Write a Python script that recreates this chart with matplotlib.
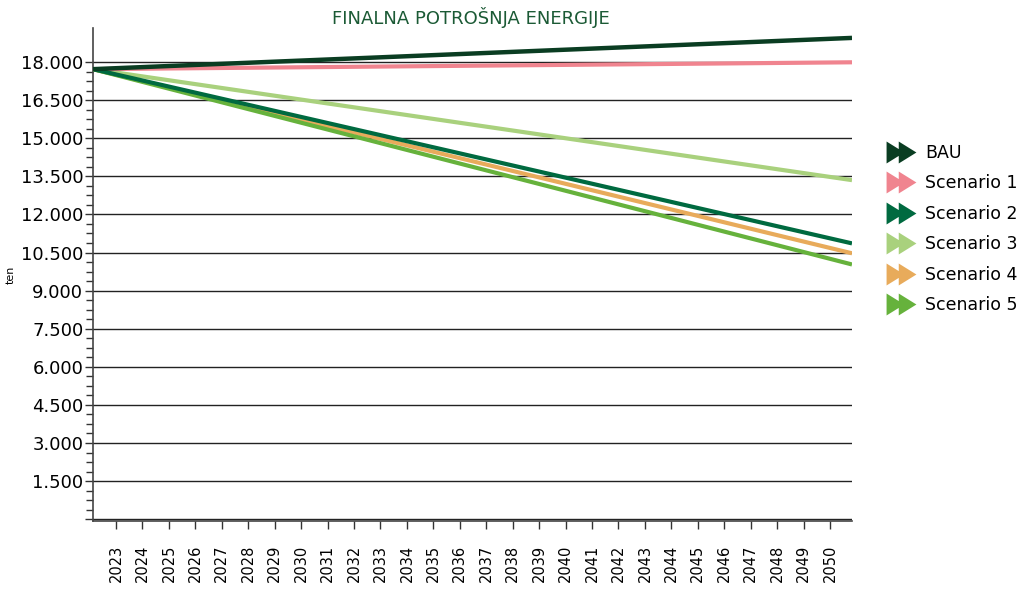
import matplotlib
matplotlib.use("Agg")
import matplotlib.pyplot as plt
from matplotlib.path import Path
from matplotlib.lines import Line2D
from matplotlib.ticker import MultipleLocator, FixedLocator, FuncFormatter

plt.rcParams['font.family'] = ['DejaVu Sans']

# Series: start and end of each projection (ten)
years = [2022.13, 2050.83]
bau = [17720, 18950]
scenario1 = [17720, 17990]
scenario2 = [17720, 10860]
scenario3 = [17720, 13350]
scenario4 = [17720, 10470]
scenario5 = [17720, 10030]

series_names = ["BAU", "Scenario 1", "Scenario 2", "Scenario 3", "Scenario 4", "Scenario 5"]
series_values = [bau, scenario1, scenario2, scenario3, scenario4, scenario5]
colors = ["#0a3d22", "#f0848f", "#006a40", "#a9d17d", "#e8ab5b", "#66b23c"]

tick_years = list(range(2023, 2051))

fig = plt.figure(figsize=(10.29, 5.9), dpi=100)
ax = fig.add_axes([93 / 1029, 1 - 521 / 590, (852 - 93) / 1029, (521 - 28) / 590])

# draw back to front so BAU and the steepest scenarios sit on top
order = [3, 1, 4, 5, 2, 0]
for i in order:
    lw = 3.2 if i == 0 else 3.0
    ax.plot(years, series_values[i], color=colors[i], lw=lw, solid_capstyle='butt', zorder=3)

ax.set_xlim(2022.13, 2050.83)
ax.set_ylim(-70, 19340)

ax.yaxis.set_major_locator(MultipleLocator(1500))
ax.yaxis.set_minor_locator(FixedLocator([v * 375 for v in range(1, 48) if v % 4]))
ax.yaxis.set_major_formatter(FuncFormatter(lambda v, p: "" if v <= 0 or v > 18000 else f"{int(v):,}".replace(",", ".")))
ax.set_xticks(tick_years)
ax.set_xticklabels([str(y) for y in tick_years], rotation=90, fontsize=10.5)

ax.grid(axis='y', which='major', color='#222222', lw=1.0, zorder=1)
ax.tick_params(axis='y', which='major', length=6, width=1, labelsize=13, pad=1, color='#333333')
ax.tick_params(axis='y', which='minor', length=5, width=1, color='#333333')
ax.tick_params(axis='x', which='major', length=6, width=1, pad=11, color='#333333')

for s in ['top', 'right']:
    ax.spines[s].set_visible(False)
for s in ['left', 'bottom']:
    ax.spines[s].set_color('#444444')
    ax.spines[s].set_linewidth(1.2)

ax.set_ylabel("ten", fontsize=8)
ax.yaxis.set_label_coords(-0.102, 0.5)

fig.text(471 / 1029, 1 - 18 / 590, "FINALNA POTROŠNJA ENERGIJE", ha='center', va='center',
         fontsize=13, color='#1b5a35')

# double-arrow legend marker
verts = [(-1.36, -1), (0.25, 0), (-1.36, 1), (-1.36, -1),
         (-0.25, -1), (1.36, 0), (-0.25, 1), (-0.25, -1)]
codes = [Path.MOVETO, Path.LINETO, Path.LINETO, Path.CLOSEPOLY] * 2
double_arrow = Path(verts, codes)

handles = [Line2D([], [], ls='none', marker=double_arrow, markersize=21.5,
                  markerfacecolor=c, markeredgecolor='none') for c in colors]
leg = fig.legend(handles, series_names, loc='upper left', bbox_to_anchor=(880 / 1029, 1 - 137 / 590),
                 frameon=False, fontsize=12.5, handlelength=1.6, handletextpad=0.6,
                 labelspacing=0.72, borderaxespad=0)

fig.savefig("out.png", dpi=100)
